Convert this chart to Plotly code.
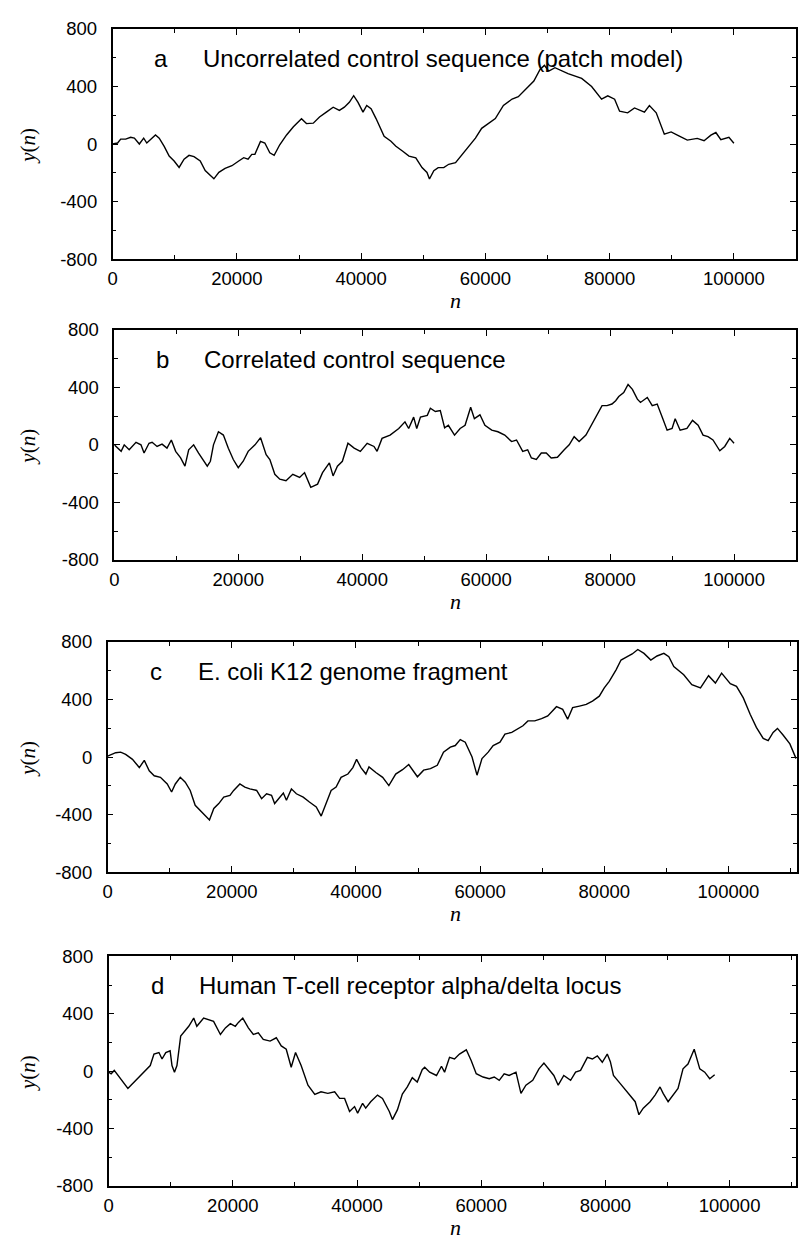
import plotly.graph_objects as go

# ---------------- data ----------------
n_a = [0, 800, 1300, 2100, 2900, 3500, 4300, 5000, 5500, 6100, 6900, 7500, 8300, 9100, 9900,
       10700, 11500, 12300, 13100, 14100, 14900, 16300, 17100, 18100, 19200, 20300, 21100, 21800,
       22400, 22900, 23800, 24500, 25300, 26000, 26900, 28000, 29100, 30400, 31200, 32300, 33300,
       34400, 35500, 36500, 37300, 38100, 38800, 39500, 40300, 40900, 41600, 42400, 43200, 43700,
       44800, 45600, 46700, 47700, 48800, 49800, 50600, 51000, 51700, 52400, 53300, 54100, 55200,
       56300, 57300, 58400, 59400, 60500, 61600, 62900, 64300, 65300, 66700, 67800, 68800, 69500,
       70200, 71200, 73300, 75500, 77100, 78700, 79700, 80800, 81600, 82900, 84000, 85600, 86400,
       87500, 88800, 89900, 90900, 92500, 94100, 95200, 96300, 97100, 97900, 99200, 100000]
y_a = [0, 7, 34, 34, 47, 41, 0, 41, 7, 34, 63, 41, -16, -84, -118,
       -163, -106, -79, -88, -118, -185, -242, -197, -170, -151, -118, -95, -106,
       -72, -72, 18, 7, -61, -79, -5, 63, 120, 176, 142, 145, 188,
       222, 256, 234, 256, 290, 336, 290, 222, 268, 245, 177, 98, 53,
       19, -16, -50, -84, -96, -164, -198, -243, -186, -164, -164, -141, -130,
       -73, -16, 41, 109, 143, 177, 268, 313, 329, 393, 438, 518, 547,
       507, 531, 490, 456, 400, 312, 335, 312, 228, 217, 251, 221, 267,
       217, 68, 84, 62, 27, 39, 23, 62, 80, 30, 46, 5]

n_b = [0, 500, 1100, 1600, 2400, 3500, 4300, 4800, 5600, 6100, 6900, 7700, 8500, 9200, 9900,
       10700, 11400, 12000, 12800, 13600, 14400, 15000, 15500, 16000, 16800, 17600, 18400, 19200,
       20000, 20800, 21600, 22700, 23600, 24500, 25100, 25900, 26700, 27700, 28800, 29900, 30700,
       31700, 32800, 33600, 34700, 35300, 36000, 36800, 37700, 38700, 39700, 40800, 41900, 42400,
       43200, 44500, 45900, 46900, 47500, 48300, 48800, 49400, 50500, 51000, 51800, 52600, 53300,
       53900, 54900, 55800, 56600, 57500, 58100, 59000, 59800, 60900, 61900, 63000, 64100, 64900,
       65900, 66700, 67300, 68100, 68900, 69700, 70500, 71500, 72600, 73400, 74200, 75000, 76100,
       77100, 77900, 78700, 79500, 80300, 80900, 81400, 82200, 82900, 83600, 84400, 84900, 86000,
       86800, 87600, 88400, 89200, 90000, 90500, 91300, 92400, 93300, 94200, 95000, 95800, 96600,
       97700, 98500, 99300, 100000]
y_b = [0, -23, -45, 0, -34, 18, 0, -57, 11, 18, -11, 5, -23, 34, -45,
       -91, -148, -34, 0, -57, -114, -148, -114, 0, 91, 68, -23, -102,
       -159, -114, -45, 0, 50, -68, -102, -205, -239, -250, -205, -227, -193,
       -295, -273, -193, -125, -216, -148, -114, 11, -23, -45, 11, -11, -45,
       45, 68, 114, 160, 114, 193, 114, 193, 205, 255, 232, 239, 118,
       136, 68, 114, 136, 261, 182, 209, 136, 102, 91, 68, 23, 34,
       -45, -34, -91, -102, -57, -57, -91, -86, -34, 0, 57, 23, 68,
       148, 216, 273, 273, 284, 307, 336, 364, 420, 386, 318, 295, 330,
       273, 284, 193, 102, 114, 182, 102, 114, 170, 136, 68, 57, 34,
       -41, -11, 45, 11]

n_c = [0, 500, 1300, 2100, 2900, 4000, 5100, 5900, 6700, 7500, 8500, 9600, 10300, 10900, 11700,
       12500, 13300, 14100, 14900, 15700, 16400, 17100, 17900, 18700, 19700, 20300, 21300, 22100,
       22900, 24000, 24800, 25600, 26400, 26900, 27700, 28300, 28800, 29600, 30400, 31500, 32500,
       33600, 34400, 34900, 36000, 36800, 37600, 38700, 39500, 40100, 40800, 41600, 42100, 43200,
       44300, 45300, 46400, 47500, 48500, 49900, 50900, 52000, 53100, 54100, 55200, 56000, 56800,
       57600, 58700, 59500, 60300, 61300, 62100, 63200, 64000, 65100, 65900, 66900, 67700, 68800,
       69900, 70900, 72300, 73300, 74100, 74900, 76000, 77100, 78100, 79200, 80000, 80800, 81900,
       82700, 83700, 84500, 85400, 86400, 87500, 88500, 89600, 90400, 91200, 92800, 94100, 95500,
       96800, 97900, 98900, 100300, 101300, 102400, 103500, 104500, 105600, 106400, 107200, 107900,
       108800, 109900, 110900]
y_c = [7, 18, 30, 34, 18, -16, -73, -23, -96, -130, -141, -187, -243, -187, -141,
       -175, -232, -335, -369, -403, -437, -357, -323, -278, -266, -232, -187, -209,
       -221, -232, -289, -255, -266, -323, -278, -250, -300, -221, -255, -278, -312,
       -346, -410, -357, -232, -209, -141, -118, -73, -16, -73, -118, -68, -107,
       -141, -198, -118, -88, -52, -137, -91, -80, -57, 34, 69, 80, 121,
       103, 0, -126, -11, 34, 80, 103, 160, 171, 194, 217, 251, 251,
       267, 286, 350, 331, 263, 343, 354, 366, 389, 423, 480, 526, 606,
       674, 697, 716, 747, 720, 674, 702, 720, 697, 629, 572, 503, 480,
       565, 514, 583, 510, 491, 411, 297, 206, 130, 114, 171, 199,
       153, 91, -11]

n_d = [0, 400, 900, 1700, 2500, 3100, 3600, 4400, 5200, 6000, 6700, 7300, 8100, 8600, 9200,
       9900, 10200, 10600, 11000, 11600, 12400, 12900, 13700, 14200, 15300, 16100, 16900, 18000,
       18800, 19600, 20400, 20900, 21600, 22500, 23300, 24100, 24900, 26000, 27000, 27800, 28600,
       29400, 30100, 31000, 32100, 33200, 34200, 35300, 36400, 37200, 38000, 38800, 39600, 40100,
       40900, 41400, 42200, 43300, 44100, 45200, 45700, 46500, 47300, 48100, 48900, 49700, 50500,
       50900, 51700, 52800, 53600, 54100, 54900, 55700, 56500, 57600, 58400, 59200, 60300, 61300,
       62100, 62900, 63700, 64500, 65600, 66400, 67200, 68300, 69300, 70100, 70900, 71700, 72400,
       73300, 74400, 75200, 76000, 77100, 77900, 78700, 79500, 80300, 80800, 81300, 82400, 83700,
       84800, 85400, 86100, 87200, 88000, 88800, 89300, 90100, 90900, 91700, 92500, 93300, 94300,
       95200, 96000, 96800, 97600]
y_d = [-7, -18, 5, -41, -87, -121, -98, -64, -30, 5, 39, 119, 130, 85, 130,
       142, 39, -7, 39, 245, 290, 313, 370, 313, 370, 359, 347, 256,
       302, 331, 313, 340, 370, 302, 256, 267, 222, 210, 233, 176, 153,
       27, 130, 39, -98, -162, -144, -155, -144, -190, -190, -281, -247, -293,
       -224, -258, -213, -167, -190, -281, -338, -270, -160, -110, -45, -76, 10,
       27, -7, -30, 34, -7, 96, 85, 119, 149, 73, -18, -41, -53,
       -41, -64, -18, -30, -7, -155, -98, -64, 16, 57, 16, -30, -98,
       -30, -64, -7, 5, 96, 85, 107, 62, 119, 66, -30, -87, -155,
       -213, -304, -258, -213, -167, -110, -155, -213, -167, -121, 16, 50, 153,
       16, -7, -53, -25]

panel_letters = ["a", "b", "c", "d"]
panel_titles = ["Uncorrelated control sequence (patch model)",
                "Correlated control sequence",
                "E. coli K12 genome fragment",
                "Human T-cell receptor alpha/delta locus"]
x_ticks = [0, 20000, 40000, 60000, 80000, 100000]
x_tick_labels = ["0", "20000", "40000", "60000", "80000", "100000"]
y_ticks = [-800, -400, 0, 400, 800]
y_tick_labels = ["-800", "-400", "0", "400", "800"]

# ---------------- layout geometry (pixels) ----------------
W, H = 799, 1245
# (left, right, top, bottom, xmax)
boxes = [(108.3, 796.0, 18.3, 252.3, 110000),
         (110.0, 796.0, 324.3, 558.3, 110000),
         (103.3, 796.7, 641.7, 876.0, 111000),
         (104.3, 796.0, 961.7, 1195.0, 110700)]

series = [(n_a, y_a), (n_b, y_b), (n_c, y_c), (n_d, y_d)]

fig = go.Figure()
SANS = "Liberation Sans, Arial, Helvetica, sans-serif"
SERIF = "Liberation Serif, Times New Roman, serif"
TICKFONT = dict(family=SANS, size=18.5, color="black")
annotations = []
layout = dict(width=W, height=H, margin=dict(l=0, r=0, t=0, b=0),
              paper_bgcolor="white", plot_bgcolor="white", showlegend=False)

for i, ((xs, ys), (l, r, t, b, xmax)) in enumerate(zip(series, boxes)):
    k = "" if i == 0 else str(i + 1)
    fig.add_trace(go.Scatter(x=xs, y=ys, mode="lines",
                             line=dict(color="black", width=1.4),
                             xaxis="x" + k, yaxis="y" + k, hoverinfo="skip"))
    common = dict(showline=True, linecolor="black", linewidth=1.5, mirror="allticks",
                  ticks="inside", ticklen=6, tickwidth=1, tickcolor="black",
                  showgrid=False, zeroline=False, tickfont=TICKFONT, fixedrange=True)
    layout["xaxis" + k] = dict(common, domain=[l / W, r / W], range=[0, xmax],
                               tickvals=x_ticks, ticktext=x_tick_labels, anchor="y" + k,
                               ticklabelstandoff=2,
                               minor=dict(ticks="inside", ticklen=4, dtick=10000, tick0=0,
                                          tickcolor="black", showgrid=False))
    layout["yaxis" + k] = dict(common, domain=[1 - b / H, 1 - t / H], range=[-800, 800],
                               tickvals=y_ticks, ticktext=y_tick_labels, anchor="x" + k,
                               ticklabelstandoff=10,
                               minor=dict(ticks="inside", ticklen=4, dtick=200, tick0=0,
                                          tickcolor="black", showgrid=False))
    # panel letter and title
    annotations.append(dict(x=7800, y=595, xref="x" + k, yref="y" + k, text=panel_letters[i],
                            showarrow=False, xanchor="center", yanchor="middle",
                            font=dict(family=SANS, size=24, color="black")))
    annotations.append(dict(x=14200, y=595, xref="x" + k, yref="y" + k, text=panel_titles[i],
                            showarrow=False, xanchor="left", yanchor="middle",
                            font=dict(family=SANS, size=24, color="black")))
    # axis titles
    annotations.append(dict(x=23 / W, y=1 - ((t + b) / 2 + 2) / H, xref="paper", yref="paper",
                            text="<i>y</i>(<i>n</i>)", textangle=-90, showarrow=False,
                            xanchor="center", yanchor="middle",
                            font=dict(family=SERIF, size=21, color="black")))
    annotations.append(dict(x=453 / W, y=1 - (b + 42) / H, xref="paper", yref="paper",
                            text="<i>n</i>", showarrow=False, xanchor="center", yanchor="middle",
                            font=dict(family=SERIF, size=22, color="black")))

layout["annotations"] = annotations
fig.update_layout(**layout)
fig.write_html("out.html")
